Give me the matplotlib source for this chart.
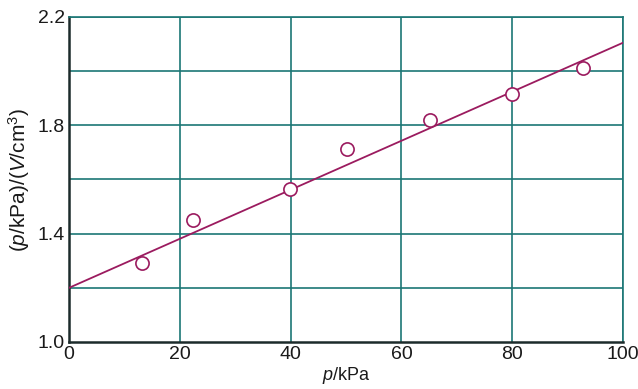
import matplotlib
matplotlib.use("Agg")
import matplotlib.pyplot as plt
import numpy as np

plt.rcParams['font.family'] = ['Liberation Sans', 'DejaVu Sans']
plt.rcParams['mathtext.fontset'] = 'custom'
plt.rcParams['mathtext.rm'] = 'Liberation Sans'
plt.rcParams['mathtext.it'] = 'Liberation Sans:italic'

p_kpa = [13.2, 22.4, 39.9, 50.2, 65.2, 80.0, 92.8]
ratio = [1.292, 1.450, 1.565, 1.713, 1.820, 1.916, 2.012]
fit_x = [0, 100]
fit_y = [1.20, 2.105]

x_ticks = [0, 20, 40, 60, 80, 100]
y_ticks = [1.0, 1.4, 1.8, 2.2]
y_grid = [1.2, 1.4, 1.6, 1.8, 2.0, 2.2]

line_col = '#9b1b5f'
grid_col = '#1b7775'
spine_col = '#1c2b2b'

fig = plt.figure(figsize=(6.38, 3.89), dpi=100)
ax = fig.add_axes([69/638, 1-342/389, (623-69)/638, (342-17)/389])

ax.set_xlim(0, 100)
ax.set_ylim(1.0, 2.2)

for xv in x_ticks[1:]:
    ax.axvline(xv, color=grid_col, lw=1.2, zorder=1)
for yv in y_grid:
    ax.axhline(yv, color=grid_col, lw=1.2, zorder=1)

ax.plot(fit_x, fit_y, color=line_col, lw=1.3, zorder=3)
ax.plot(p_kpa, ratio, 'o', ms=9.5, mfc='white', mec=line_col, mew=1.2, zorder=4)

ax.set_xticks(x_ticks)
ax.set_yticks(y_ticks)
ax.set_xticklabels([str(v) for v in x_ticks])
ax.set_yticklabels([f"{v:.1f}" for v in y_ticks])
ax.tick_params(length=0, labelsize=14, colors='#1a1a1a', pad=3)

for s in ['left', 'bottom']:
    ax.spines[s].set_color(spine_col)
    ax.spines[s].set_linewidth(1.8)
for s in ['top', 'right']:
    ax.spines[s].set_color(grid_col)
    ax.spines[s].set_linewidth(1.2)

ax.set_xlabel(r"$p$/kPa", fontsize=13, labelpad=1, color='#1a1a1a')
ax.set_ylabel(r"($p$/kPa)/($V$/cm$^3$)", fontsize=15, labelpad=4, color='#1a1a1a')

fig.savefig("out.png", dpi=100)
